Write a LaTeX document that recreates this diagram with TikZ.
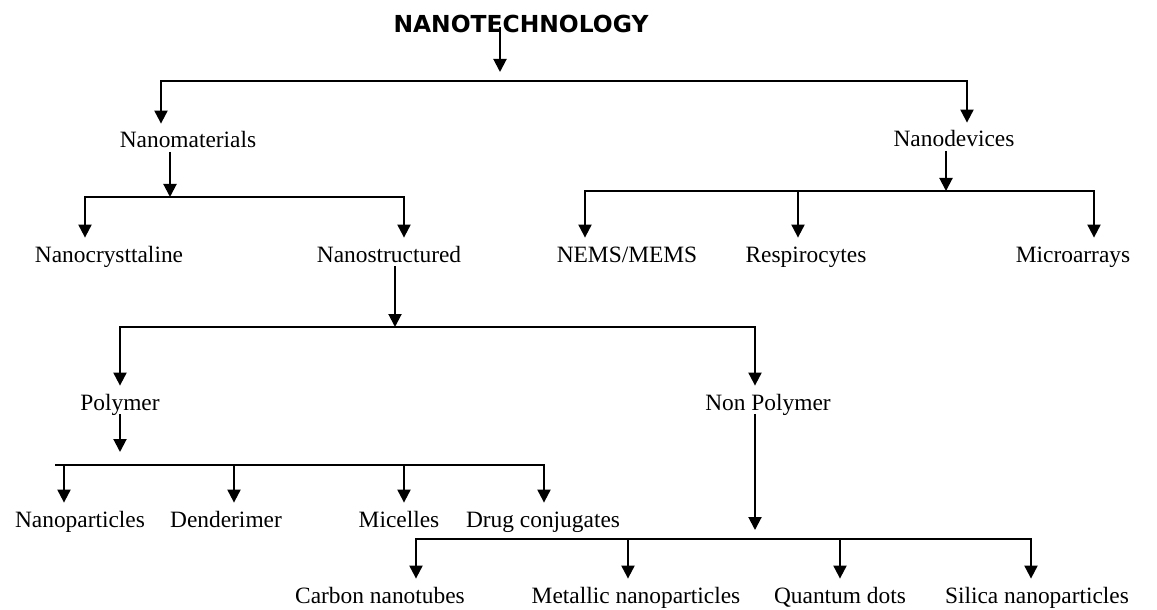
\documentclass[tikz,border=0pt]{standalone}
\usepackage{fontspec}
\setmainfont{Liberation Serif}
\newfontfamily\titlefont{DejaVu Sans}
\usetikzlibrary{arrows.meta}
\begin{document}
\begin{tikzpicture}[x=0.5pt,y=-0.5pt,
  lbl/.style={anchor=base, font=\fontsize{11.7}{14}\selectfont, text height=8pt, text depth=2.5pt, inner xsep=0pt, inner ysep=4pt},
  arr/.style={line width=1pt, -{Triangle[length=6.5pt,width=6.5pt]}},
  bar/.style={line width=1pt, line cap=rect},
  thinbar/.style={line width=0.8pt, line cap=rect}]
\useasboundingbox (0,0) rectangle (1157,610);
% nodes
\node[lbl, font=\titlefont\bfseries\fontsize{11.7}{14}\selectfont] (title) at (521,33) {NANOTECHNOLOGY};
\node[lbl] (nmat) at (188,148) {Nanomaterials};
\node[lbl] (ndev) at (954,147) {Nanodevices};
\node[lbl] (ncry) at (109,262) {Nanocrysttaline};
\node[lbl] (nstr) at (389,262) {Nanostructured};
\node[lbl] (nems) at (627,262) {NEMS/MEMS};
\node[lbl] (resp) at (806,262) {Respirocytes};
\node[lbl] (micr) at (1073,262) {Microarrays};
\node[lbl] (poly) at (120,410) {Polymer};
\node[lbl] (npol) at (768,410) {Non Polymer};
\node[lbl] (npar) at (80,527) {Nanoparticles};
\node[lbl] (dend) at (226,527) {Denderimer};
\node[lbl] (mice) at (399,527) {Micelles};
\node[lbl] (drug) at (543,527) {Drug conjugates};
\node[lbl] (carb) at (380,603) {Carbon nanotubes};
\node[lbl] (meta) at (636,603) {Metallic nanoparticles};
\node[lbl] (quan) at (840,603) {Quantum dots};
\node[lbl] (sili) at (1037,603) {Silica nanoparticles};
% junction coordinates
\coordinate (j0) at (500,81);
\coordinate (a1) at (161,81);
\coordinate (a2) at (967,81);
\coordinate (j1) at (170,197);
\coordinate (b1) at (85,197);
\coordinate (b2) at (404,197);
\coordinate (j2) at (946,191);
\coordinate (c1) at (585,191);
\coordinate (c2) at (798,191);
\coordinate (c3) at (1094,191);
\coordinate (j3) at (395,327);
\coordinate (d1) at (120,327);
\coordinate (d2) at (755,327);
\coordinate (j4) at (120,465);
\coordinate (e0) at (56,465);
\coordinate (e1) at (64,465);
\coordinate (e2) at (234,465);
\coordinate (e3) at (404,465);
\coordinate (e4) at (544,465);
\coordinate (j5) at (755,539);
\coordinate (f1) at (416,539);
\coordinate (f2) at (628,539);
\coordinate (f3) at (840,539);
\coordinate (f4) at (1031,539);
% level 0
\draw[arr, shorten >=4.5pt] ([yshift=3pt]title.base -| j0) -- (j0);
\draw[bar] (a1) -- (a2);
\draw[arr] (a1) -- (a1 |- nmat.north);
\draw[arr] (a2) -- (a2 |- ndev.north);
% nanomaterials
\draw[arr] ([yshift=-2pt]nmat.base -| j1) -- (j1);
\draw[bar] (b1) -- (b2);
\draw[arr] (b1) -- (b1 |- ncry.north);
\draw[arr] (b2) -- (b2 |- nstr.north);
% nanodevices
\draw[arr] ([yshift=-2pt]ndev.base -| j2) -- (j2);
\draw[bar] (c1) -- (c3);
\draw[arr] (c1) -- (c1 |- nems.north);
\draw[arr] (c2) -- (c2 |- resp.north);
\draw[arr] (c3) -- (c3 |- micr.north);
% nanostructured
\draw[arr] ([yshift=-2pt]nstr.base -| j3) -- (j3);
\draw[bar] (d1) -- (d2);
\draw[arr] (d1) -- (d1 |- poly.north);
\draw[arr] (d2) -- (d2 |- npol.north);
% polymer
\draw[arr, shorten >=6.5pt] ([yshift=-2pt]poly.base -| j4) -- (j4);
\draw[thinbar] (e0) -- (e4);
\draw[arr] (e1) -- (e1 |- npar.north);
\draw[arr] (e2) -- (e2 |- dend.north);
\draw[arr] (e3) -- (e3 |- mice.north);
\draw[arr] (e4) -- (e4 |- drug.north);
% non polymer
\draw[arr, shorten >=4.5pt] ([yshift=-2pt]npol.base -| j5) -- (j5);
\draw[bar] (f1) -- (f4);
\draw[arr] (f1) -- (f1 |- carb.north);
\draw[arr] (f2) -- (f2 |- meta.north);
\draw[arr] (f3) -- (f3 |- quan.north);
\draw[arr] (f4) -- (f4 |- sili.north);
\end{tikzpicture}
\end{document}
